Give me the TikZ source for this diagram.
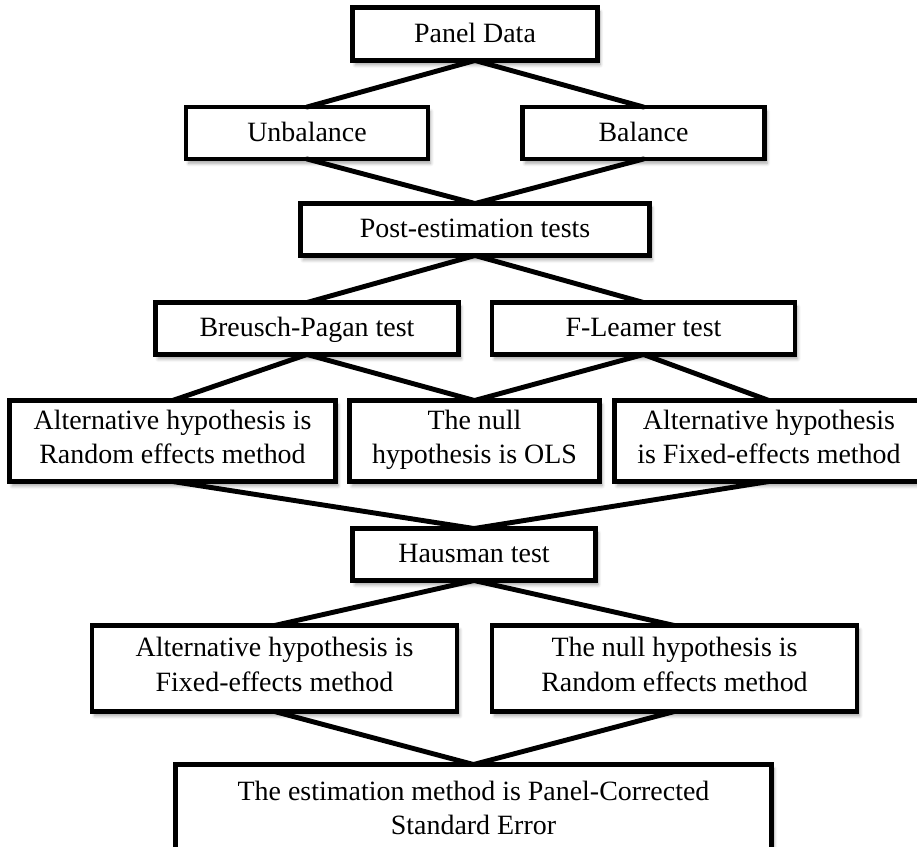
\documentclass[tikz,border=0pt]{standalone}
\usepackage{fontspec}
\setmainfont{Liberation Serif}
\usepackage{tikz}
\usetikzlibrary{shadows, shadows.blur, positioning, calc}

\begin{document}
\begin{tikzpicture}[x=0.02cm, y=-0.02cm,
    box/.style={draw, line width=2.8pt, fill=white, align=center, inner sep=0pt, outer sep=0pt,
        font=\fontsize{15.9}{19.8}\selectfont,
        execute at begin node=\rule{0pt}{14.4pt}, execute at end node=\rule[-4.8pt]{0pt}{0pt},
        blur shadow={shadow xshift=1.5pt, shadow yshift=-2.5pt, shadow blur steps=6, shadow opacity=35}},
    link/.style={line width=2.8pt, line cap=round}]

            % Khung ảnh
            \useasboundingbox (0,0) rectangle (917,846);

            % Vẽ các hộp
            \node[box, minimum width=4.9cm, minimum height=1.06cm] (pd) at (475,34) {Panel Data}; % Dữ liệu bảng
            \node[box, minimum width=4.84cm, minimum height=1.04cm] (ub) at (307,133) {Unbalance};
            \node[box, minimum width=4.84cm, minimum height=1.04cm] (bal) at (643.5,133) {Balance};
            \node[box, minimum width=6.98cm, minimum height=1.04cm] (post) at (475,229.5) {Post-estimation tests};
            \node[box, minimum width=6.06cm, minimum height=1.04cm] (bp) at (307,328.5) {Breusch-Pagan test};
            \node[box, minimum width=6.06cm, minimum height=1.04cm] (fl) at (643.5,328.5) {F-Leamer test};
            \node[box, minimum width=6.52cm, minimum height=1.62cm] (are) at (172.5,441) {Alternative hypothesis is\\Random effects method};
            \node[box, minimum width=5.0cm, minimum height=1.62cm] (ols) at (474.5,441) {The null\\hypothesis is OLS};
            \node[box, minimum width=6.18cm, minimum height=1.62cm] (afe) at (769,441) {Alternative hypothesis\\is Fixed-effects method};
            \node[box, minimum width=4.86cm, minimum height=1.04cm] (haus) at (474,554.5) {Hausman test};
            \node[box, minimum width=7.3cm, minimum height=1.72cm] (afetwo) at (274.5,668.5) {Alternative hypothesis is\\Fixed-effects method};
            \node[box, minimum width=7.3cm, minimum height=1.72cm] (nre) at (674.5,668.5) {The null hypothesis is\\Random effects method};
            \node[box, minimum width=11.92cm, minimum height=1.9cm] (est) at (473.5,812) {The estimation method is Panel-Corrected\\Standard Error};

            % Vẽ các đường nối
            \draw[link] (pd.south) -- (ub.north);
            \draw[link] (pd.south) -- (bal.north);
            \draw[link] (ub.south) -- (post.north);
            \draw[link] (bal.south) -- (post.north);
            \draw[link] (post.south) -- (bp.north);
            \draw[link] (post.south) -- (fl.north);
            \draw[link] (bp.south) -- (are.north);
            \draw[link] (bp.south) -- (ols.north);
            \draw[link] (fl.south) -- (ols.north);
            \draw[link] (fl.south) -- (afe.north);
            \draw[link] (are.south) -- (haus.north);
            \draw[link] (afe.south) -- (haus.north);
            \draw[link] (haus.south) -- (afetwo.north);
            \draw[link] (haus.south) -- (nre.north);
            \draw[link] (afetwo.south) -- (est.north);
            \draw[link] (nre.south) -- (est.north);

\end{tikzpicture}
\end{document}
